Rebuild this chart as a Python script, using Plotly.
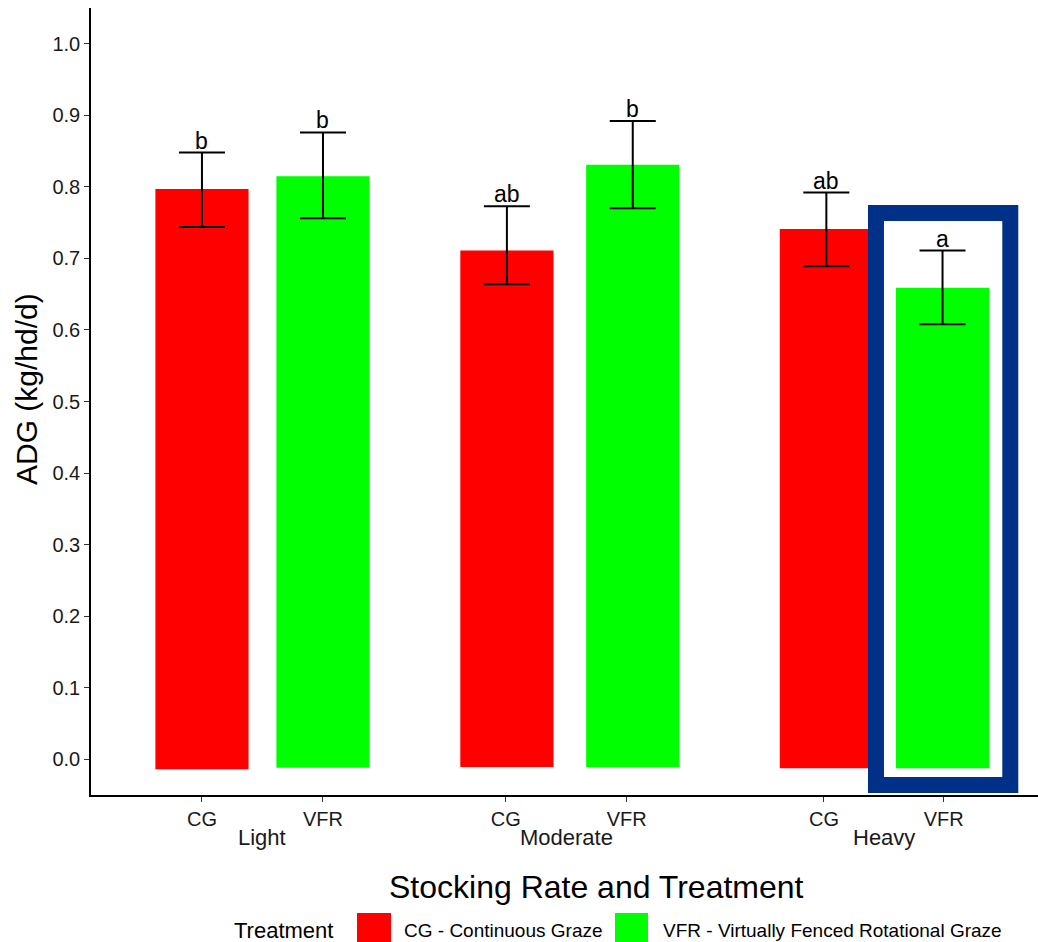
import plotly.graph_objects as go

# ---------------- data ----------------
groups = ["Light", "Moderate", "Heavy"]
treatments = ["CG", "VFR"]
tick_labels = ["CG", "VFR", "CG", "VFR", "CG", "VFR"]
adg = [0.797, 0.815, 0.711, 0.831, 0.741, 0.659]
err_upper = [0.848, 0.876, 0.773, 0.892, 0.792, 0.711]
err_lower = [0.744, 0.756, 0.664, 0.770, 0.689, 0.608]
bar_bottom = [-0.014, -0.012, -0.011, -0.011, -0.0126, -0.0126]
letters = ["b", "b", "ab", "b", "ab", "a"]
legend_labels = ["CG - Continuous Graze", "VFR - Virtually Fenced Rotational Graze"]

# ---------------- layout helpers ----------------
bar_x = [1.0, 2.0, 3.52, 4.56, 6.16, 7.12]
tick_x = [1.0, 2.0, 3.51, 4.51, 6.14, 7.13]
colors = {"CG": "#FF0000", "VFR": "#00FF00"}
FONT = "Liberation Sans, Arial, sans-serif"

W, H = 1038, 942
ML, MR, MT, MB = 91, 0, 8, 147
PW = W - ML - MR
PH = H - MT - MB


def px(xp):
    return (xp - ML) / PW


def py(yp):
    return (H - MB - yp) / PH


fig = go.Figure()

for ti, tr in enumerate(treatments):
    idx = [i for i in range(len(adg)) if i % 2 == ti]
    fig.add_trace(go.Bar(
        x=[bar_x[i] for i in idx],
        y=[adg[i] - bar_bottom[i] for i in idx],
        base=[bar_bottom[i] for i in idx],
        width=0.77,
        marker=dict(color=colors[tr], line=dict(width=0)),
        showlegend=False,
        hoverinfo="skip",
    ))

fig.add_trace(go.Scatter(
    x=bar_x,
    y=adg,
    mode="markers",
    marker=dict(opacity=0, size=1),
    error_y=dict(
        type="data",
        symmetric=False,
        array=[u - v for u, v in zip(err_upper, adg)],
        arrayminus=[v - l for v, l in zip(adg, err_lower)],
        color="black",
        thickness=2,
        width=23,
    ),
    showlegend=False,
    hoverinfo="skip",
))

annotations = []
for i, lab in enumerate(letters):
    annotations.append(dict(
        x=bar_x[i], y=err_upper[i], xref="x", yref="y",
        text=lab, showarrow=False, yanchor="bottom", yshift=-3,
        font=dict(family=FONT, size=23, color="black"),
    ))

# group labels under the tick labels
for g, gi in zip(groups, range(len(groups))):
    cx = (tick_x[2 * gi] + tick_x[2 * gi + 1]) / 2
    annotations.append(dict(
        x=cx, y=py(837), xref="x", yref="paper",
        text=g, showarrow=False, yanchor="middle",
        font=dict(family=FONT, size=22, color="#1a1a1a"),
    ))

# axis titles
annotations.append(dict(
    x=px(596), y=py(887), xref="paper", yref="paper",
    text="Stocking Rate and Treatment", showarrow=False,
    xanchor="center", yanchor="middle",
    font=dict(family=FONT, size=32, color="black"),
))
annotations.append(dict(
    x=px(27), y=py(389), xref="paper", yref="paper",
    text="ADG (kg/hd/d)", showarrow=False, textangle=-90,
    xanchor="center", yanchor="middle",
    font=dict(family=FONT, size=30, color="black"),
))

# manual legend
annotations.append(dict(
    x=px(232), y=py(930), xref="paper", yref="paper",
    text="Treatment", showarrow=False, xanchor="left", yanchor="middle",
    font=dict(family=FONT, size=22, color="black"),
))
annotations.append(dict(
    x=px(402), y=py(930), xref="paper", yref="paper",
    text=legend_labels[0], showarrow=False, xanchor="left", yanchor="middle",
    font=dict(family=FONT, size=19, color="black"),
))
annotations.append(dict(
    x=px(661), y=py(930), xref="paper", yref="paper",
    text=legend_labels[1], showarrow=False, xanchor="left", yanchor="middle",
    font=dict(family=FONT, size=19, color="black"),
))

shapes = [
    dict(type="rect", xref="paper", yref="paper",
         x0=px(357), x1=px(391), y0=py(947), y1=py(913),
         fillcolor=colors["CG"], line=dict(width=0)),
    dict(type="rect", xref="paper", yref="paper",
         x0=px(615), x1=px(648), y0=py(947), y1=py(913),
         fillcolor=colors["VFR"], line=dict(width=0)),
    # highlight box around Heavy VFR
    dict(type="rect", xref="x", yref="y",
         x0=6.57, x1=7.68, y0=-0.036, y1=0.7636,
         line=dict(color="#003087", width=16), fillcolor="rgba(0,0,0,0)",
         layer="above"),
]

fig.update_layout(
    width=W, height=H, autosize=False,
    margin=dict(l=ML, r=MR, t=MT, b=MB, pad=0),
    paper_bgcolor="white", plot_bgcolor="white",
    barmode="overlay",
    annotations=annotations,
    shapes=shapes,
    font=dict(family=FONT),
    xaxis=dict(
        range=[0.083, 7.909],
        tickmode="array", tickvals=tick_x, ticktext=tick_labels,
        showline=True, linecolor="black", linewidth=1.5,
        ticks="outside", ticklen=5, tickwidth=1.3, tickcolor="#333",
        tickfont=dict(family=FONT, size=20, color="#1a1a1a"),
        showgrid=False, zeroline=False,
    ),
    yaxis=dict(
        range=[-0.05, 1.05],
        tickmode="linear", tick0=0, dtick=0.1, tickformat=".1f",
        showline=True, linecolor="black", linewidth=1.5,
        ticks="outside", ticklen=5, tickwidth=1.3, tickcolor="#333",
        tickfont=dict(family=FONT, size=20, color="#1a1a1a"),
        showgrid=False, zeroline=False,
    ),
)

fig.write_html("out.html")
